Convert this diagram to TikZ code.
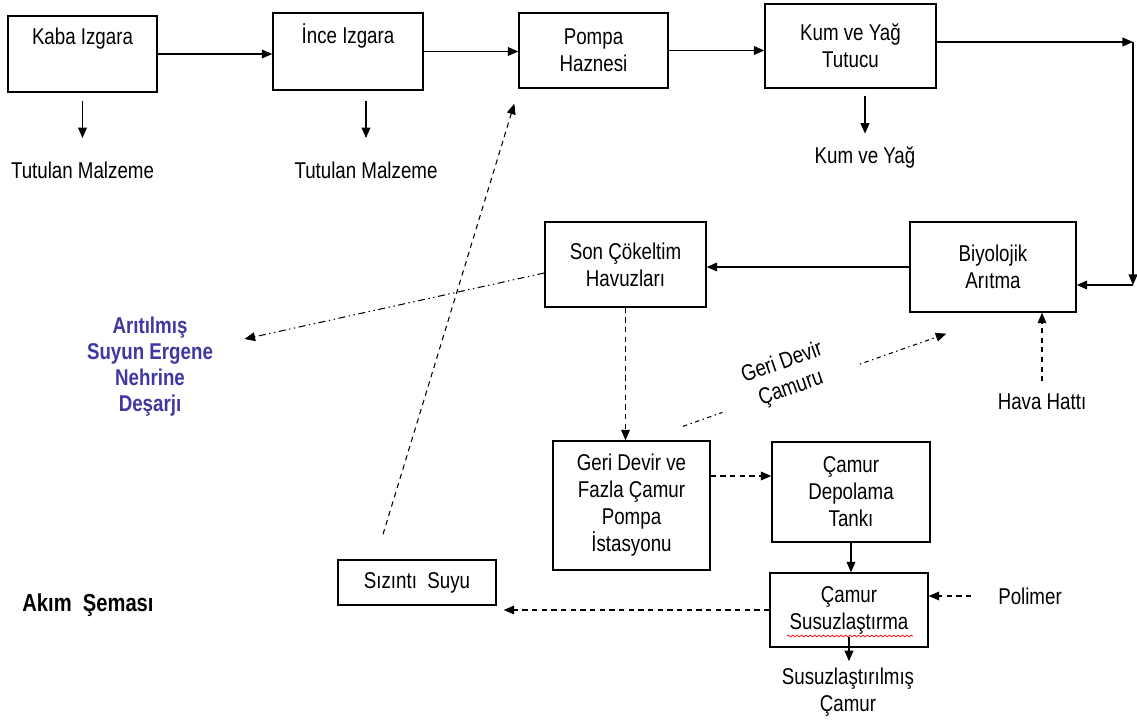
\documentclass[tikz,border=0pt]{standalone}
\usepackage{fontspec}
\setmainfont{Liberation Sans}[FakeStretch=0.82]
\usetikzlibrary{arrows.meta,decorations.pathmorphing}
\definecolor{riverblue}{RGB}{62,56,160}

\begin{document}
\begin{tikzpicture}[x=0.02cm, y=-0.02cm, thick, >={Triangle[length=6pt,width=5pt]},
	main/.style = {draw, rectangle, align=center, font=\fontsize{13}{15.4}\selectfont},
	txt/.style = {align=center, font=\fontsize{13}{15.4}\selectfont},
	flowdash/.style = {semithick, dash pattern=on 3pt off 2.5pt},
	dotdash/.style = {semithick, dash pattern=on 2.5pt off 2pt on 0.8pt off 2pt},
	dotdotdash/.style = {semithick, dash pattern=on 4pt off 2pt on 0.8pt off 2pt on 0.8pt off 2pt}]
	\useasboundingbox (0,0) rectangle (1137,722);
	% kutular
	\node[main, minimum width=2.98cm, minimum height=1.52cm] (1) at (82.5,54) {Kaba Izgara\\\strut};
	\node[main, minimum width=3cm, minimum height=1.54cm] (2) at (348,51.5) {İnce Izgara\\\strut};
	\node[main, minimum width=2.98cm, minimum height=1.5cm] (3) at (593.5,50.5) {Pompa\\Haznesi};
	\node[main, minimum width=3.42cm, minimum height=1.68cm] (4) at (850.5,46) {Kum ve Yağ\\Tutucu};
	\node[main, minimum width=3.32cm, minimum height=1.8cm] (5) at (993,267) {Biyolojik\\Arıtma};
	\node[main, minimum width=3.22cm, minimum height=1.7cm] (6) at (625.5,264.5) {Son Çökeltim\\Havuzları};
	\node[main, minimum width=3.14cm, minimum height=2.58cm] (7) at (631.5,505.5) {Geri Devir ve\\Fazla Çamur\\Pompa\\İstasyonu};
	\node[main, minimum width=3.16cm, minimum height=2cm] (8) at (851,492) {Çamur\\Depolama\\Tankı};
	\node[main, minimum width=3.16cm, minimum height=1.48cm] (9) at (849,610) {Çamur\\Susuzlaştırma};
	\node[main, minimum width=3.16cm, minimum height=0.9cm] (10) at (417,582.5) {Sızıntı\ \ Suyu};
	% yazilar
	\node[txt] (11) at (82.5,170) {Tutulan Malzeme};
	\node[txt] (12) at (366,170) {Tutulan Malzeme};
	\node[txt] (13) at (865,157) {Kum ve Yağ};
	\node[txt, text=riverblue, font=\fontsize{13}{14.8}\selectfont\bfseries] (14) at (150,367) {Arıtılmış\\Suyun Ergene\\Nehrine\\Deşarjı};
	\node[txt] (15) at (1042,402) {Hava Hattı};
	\node[txt] (16) at (1030,596) {Polimer};
	\node[txt] (17) at (848,692) {Susuzlaştırılmış\\Çamur};
	\node[txt, font=\fontsize{14}{16}\selectfont\bfseries] (18) at (88,605) {Akım\ \ Şeması};
	\coordinate (c1) at (1133,42);
	\coordinate (c2) at (1133,285);
	% oklar
	\draw[->] (1.east) -- (1.east -| 2.west);
	\draw[->] (2.east) -- (2.east -| 3.west);
	\draw[->] (3.east) -- (3.east -| 4.west);
	\draw[->, shorten <=0.16cm, shorten >=0.34cm] (1.south) -- (11.north);
	\draw[->, shorten <=0.2cm, shorten >=0.34cm] (12.north |- 2.south) -- (12.north);
	\draw[->, shorten <=0.14cm, shorten >=0.12cm] (13.north |- 4.south) -- (13.north);
	\draw[->] (c1 -| 4.east) -- (c1);
	\draw[->] (c1) -- (c2);
	\draw[->] (c2) -- (c2 -| 5.east);
	\draw[->] (5.west) -- (5.west -| 6.east);
	\draw[->, dotdotdash] ([yshift=-0.17cm]6.west) -- ([xshift=0.5cm,yshift=0.56cm]14.east);
	\draw[->, flowdash] (6.south) -- (6.south |- 7.north);
	\draw[->, dotdash] ([xshift=1.03cm,yshift=0.28cm]7.north) -- node[sloped, pos=0.41, fill=white, minimum width=2.9cm, yshift=0.26cm, txt] {Geri Devir\\Çamuru} ([xshift=0.74cm,yshift=-0.42cm]5.south west);
	\draw[->, flowdash, shorten <=0.12cm] (15.north) -- (15.north |- 5.south);
	\draw[->, flowdash] ([yshift=0.59cm]7.east) -- ([yshift=0.59cm]7.east -| 8.west);
	\draw[->] (8.south) -- (8.south |- 9.north);
	\draw[->, flowdash, shorten <=0.41cm] (16.west) -- (16.west -| 9.east);
	\draw[->] ([yshift=0.22cm]9.south) -- (9.south |- 17.north);
	\draw[->, flowdash, shorten >=0.14cm] (9.west) -- (9.west -| 10.east);
	\draw[->, flowdash] ([xshift=-0.68cm,yshift=0.5cm]10.north) -- ([xshift=-0.08cm,yshift=-0.3cm]3.south west);
	\draw[red, line width=0.4pt, decorate, decoration={snake, amplitude=0.5pt, segment length=2.5pt}] (787,636) -- (913,636);
\end{tikzpicture}
\end{document}
